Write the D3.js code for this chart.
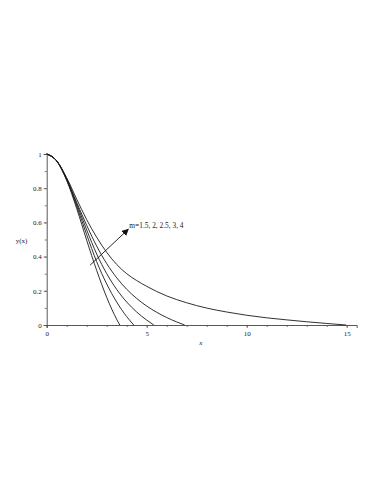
<!DOCTYPE html>
<html>
<head>
<meta charset="utf-8">
<script src="https://cdn.jsdelivr.net/npm/d3@7"></script>
<style>
  body { margin: 0; background: #fff; }
  svg text { font-family: "Liberation Serif", "DejaVu Serif", serif; fill: #222; }
</style>
</head>
<body>
<div id="chart"></div>
<script>
// x positions and y(x) values, one list per m
var xs15 = [0, 0.5, 1, 1.5, 2, 2.5, 3, 3.5, 3.654];
var ys15 = [1, 0.9591, 0.8452, 0.6811, 0.4955, 0.319, 0.162, 0.033, 0];

var xs2 = [0, 0.5, 1, 1.5, 2, 2.5, 3, 3.5, 4, 4.353];
var ys2 = [1, 0.9594, 0.8487, 0.6953, 0.528, 0.370, 0.240, 0.134, 0.049, 0];

var xs25 = [0, 0.5, 1, 1.5, 2, 2.5, 3, 3.5, 4, 4.5, 5, 5.355];
var ys25 = [1, 0.9596, 0.8519, 0.708, 0.556, 0.415, 0.3005, 0.208, 0.1345, 0.076, 0.0287, 0];

var xs3 = [0, 0.5, 1, 1.5, 2, 2.5, 3, 3.5, 4, 4.5, 5, 5.5, 6, 6.5, 6.897];
var ys3 = [1, 0.9598, 0.8551, 0.7167, 0.5829, 0.4611, 0.3592, 0.2762, 0.2092, 0.1551, 0.1109, 0.0744, 0.0437, 0.018, 0];

var xs4 = [0, 0.5, 1, 1.5, 2, 2.5, 3, 3.5, 4, 4.5, 5, 5.5, 6, 7, 8, 9, 10, 11, 12, 13, 14, 14.97];
var ys4 = [1, 0.9603, 0.8608, 0.736, 0.616, 0.513, 0.425, 0.354, 0.300, 0.260, 0.226, 0.196, 0.170, 0.130, 0.099, 0.076, 0.057, 0.042, 0.030, 0.019, 0.009, 0];

var seriesX = [xs15, xs2, xs25, xs3, xs4];
var seriesY = [ys15, ys2, ys25, ys3, ys4];

var xTicks = [0, 5, 10, 15];
var xMinor = d3.range(0, 16, 1);
var yTicks = [0, 0.2, 0.4, 0.6, 0.8, 1];
var yMinor = d3.range(0, 1.01, 0.1);

var annoText = "m=1.5, 2, 2.5, 3, 4";
var arrowFrom = [2.17, 0.35];
var arrowTo = [4.08, 0.56];

var W = 383, H = 495;
var margin = { left: 46.7, top: 154, right: 26.3, bottom: 170 };

var x = d3.scaleLinear().domain([0, 15.5]).range([margin.left, W - margin.right]);
var y = d3.scaleLinear().domain([0, 1]).range([H - margin.bottom, margin.top]);

var svg = d3.select("#chart").append("svg")
    .attr("width", W)
    .attr("height", H);

svg.append("defs").append("marker")
    .attr("id", "head")
    .attr("viewBox", "0 0 10 10")
    .attr("refX", 9).attr("refY", 5)
    .attr("markerWidth", 7).attr("markerHeight", 7)
    .attr("markerUnits", "userSpaceOnUse")
    .attr("orient", "auto")
    .append("path")
    .attr("d", "M0,0L10,5L0,10z")
    .attr("fill", "#111");

// axes
svg.append("g")
    .attr("transform", "translate(0," + y(0) + ")")
    .call(d3.axisBottom(x).tickValues(xTicks).tickSize(3).tickPadding(3).tickFormat(d3.format("d")));
svg.append("g")
    .attr("transform", "translate(0," + y(0) + ")")
    .call(d3.axisBottom(x).tickValues(xMinor).tickSize(2).tickFormat(""))
    .select(".domain").remove();

svg.append("g")
    .attr("transform", "translate(" + x(0) + ",0)")
    .call(d3.axisLeft(y).tickValues(yTicks).tickSize(3).tickPadding(2).tickFormat(function(d) { return d === 0 || d === 1 ? d3.format("d")(d) : d3.format(".1f")(d); }));
svg.append("g")
    .attr("transform", "translate(" + x(0) + ",0)")
    .call(d3.axisLeft(y).tickValues(yMinor).tickSize(2).tickFormat(""))
    .select(".domain").remove();

svg.selectAll(".domain").attr("stroke", "#444").attr("stroke-width", 0.9);
svg.selectAll(".tick line").attr("stroke", "#555").attr("stroke-width", 0.8);
svg.selectAll(".tick text")
    .style("font-family", "Liberation Serif, serif")
    .style("font-size", "7px")
    .attr("fill", "#222");

svg.append("text")
    .attr("x", (x.range()[0] + x.range()[1]) / 2 - 1)
    .attr("y", y(0) + 20)
    .style("font-size", "7px")
    .style("font-style", "italic")
    .attr("text-anchor", "middle")
    .text("x");

svg.append("text")
    .attr("x", 21.5)
    .attr("y", y(0.5) + 3)
    .style("font-size", "7px")
    .attr("text-anchor", "middle")
    .text("y(x)");

// curves
var line = d3.line()
    .x(function(d) { return x(d[0]); })
    .y(function(d) { return y(d[1]); })
    .curve(d3.curveMonotoneX);

seriesX.forEach(function(xs, i) {
    var pts = xs.map(function(v, j) { return [v, seriesY[i][j]]; });
    svg.append("path")
        .datum(pts)
        .attr("fill", "none")
        .attr("stroke", "#1a1a1a")
        .attr("stroke-width", 0.9)
        .attr("d", line);
});

// annotation arrow
svg.append("line")
    .attr("x1", x(arrowFrom[0])).attr("y1", y(arrowFrom[1]))
    .attr("x2", x(arrowTo[0])).attr("y2", y(arrowTo[1]))
    .attr("stroke", "#111")
    .attr("stroke-width", 0.9)
    .attr("marker-end", "url(#head)");

svg.append("text")
    .attr("x", x(arrowTo[0]) + 1)
    .attr("y", y(arrowTo[1]) - 1.5)
    .style("font-size", "7.4px")
    .text(annoText);
</script>
</body>
</html>
